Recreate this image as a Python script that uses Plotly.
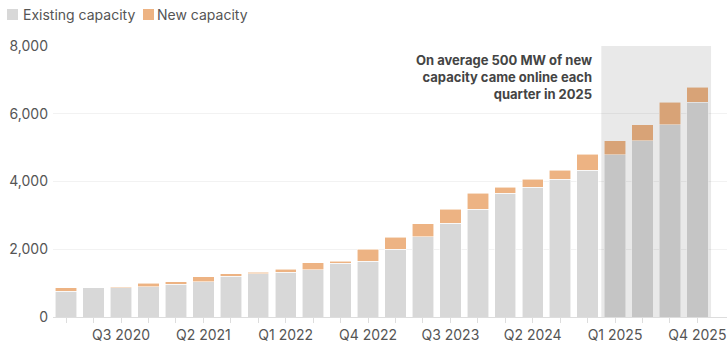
import plotly.graph_objects as go

# Quarterly capacity (MW): capacity already online at the start of each quarter,
# plus the capacity that came online during the quarter.
quarters = [f"Q{q} {y}" for y in range(2020, 2026) for q in range(1, 5)]
existing = [760, 860, 860, 895, 970, 1035, 1200, 1275, 1325, 1395, 1590, 1650,
            2005, 2365, 2765, 3183, 3655, 3835, 4070, 4325, 4790, 5210, 5675, 6335]
new_cap = [100, 0, 40, 95, 65, 160, 75, 50, 85, 200, 60, 355,
           355, 395, 418, 472, 180, 235, 255, 475, 420, 465, 660, 445]

# Every third quarter gets a label; all quarters keep a tick mark
tick_text = [q if i % 3 == 2 else "" for i, q in enumerate(quarters)]
y_ticks = [0, 2000, 4000, 6000, 8000]

series_names = ["Existing capacity", "New capacity"]
GREY = "#d8d8d8"
ORANGE = "#edb383"
FONT = "Inter"
TEXT = "#555555"

W, H = 727, 343
ML, MR, MT, MB = 53, 0, 46, 26
PW, PH = W - ML - MR, H - MT - MB


def px_x(p):
    return (p - ML) / PW


def px_y(p):
    return (H - MB - p) / PH


fig = go.Figure()
fig.add_bar(x=quarters, y=existing, name=series_names[0], marker_color=GREY,
            marker_line=dict(color="rgba(255,255,255,0.7)", width=0.8),
            showlegend=False)
fig.add_bar(x=quarters, y=new_cap, name=series_names[1], marker_color=ORANGE,
            marker_line=dict(color="rgba(255,255,255,0.7)", width=0.8),
            showlegend=False)

# Shaded band over the 2025 quarters
first_2025 = quarters.index("Q1 2025")
fig.add_shape(type="rect", xref="x", yref="y",
              x0=first_2025 - 0.5, x1=len(quarters) - 0.5, y0=0, y1=8000,
              fillcolor="rgba(0,0,0,0.085)", line_width=0, layer="above")

fig.add_annotation(xref="x", yref="y", x=first_2025 - 0.5, y=8000,
                   xanchor="right", yanchor="top", xshift=-7, yshift=-4,
                   align="right", showarrow=False,
                   text="<b>On average 500 MW of new<br>capacity came online each<br>quarter in 2025</b>",
                   font=dict(family=FONT, size=13, color="#444444"))

# Legend row: colour swatch followed by its label
legend_items = [(7, 22, GREY, series_names[0]), (143, 156, ORANGE, series_names[1])]
for sx, tx, col, label in legend_items:
    fig.add_shape(type="rect", xref="paper", yref="paper",
                  x0=px_x(sx), x1=px_x(sx + 11), y0=px_y(20), y1=px_y(9),
                  fillcolor=col, line_width=0)
    fig.add_annotation(xref="paper", yref="paper", x=px_x(tx), y=px_y(14.5),
                       xanchor="left", yanchor="middle", showarrow=False,
                       text=label, font=dict(family=FONT, size=14, color=TEXT),
                       borderpad=0)

fig.update_layout(
    width=W, height=H, barmode="stack", bargap=0.22,
    margin=dict(l=ML, r=MR, t=MT, b=MB),
    paper_bgcolor="white", plot_bgcolor="white",
    font=dict(family=FONT, size=14, color=TEXT),
    showlegend=False,
)
fig.update_xaxes(type="category", range=[-0.48, 24.08],
                 tickmode="array", tickvals=quarters, ticktext=tick_text,
                 ticks="outside", ticklen=5, tickcolor="#dddddd", tickwidth=1,
                 showline=True, linecolor="#dddddd", linewidth=1,
                 showgrid=False, tickfont=dict(family=FONT, size=14, color=TEXT))
fig.update_yaxes(range=[0, 8000], tickvals=y_ticks, tickformat=",",
                 showgrid=True, gridcolor="#f2f2f2", gridwidth=1,
                 zeroline=False, showline=False, ticks="",
                 ticklabelstandoff=4,
                 tickfont=dict(family=FONT, size=14, color=TEXT))

fig.write_html("out.html")
